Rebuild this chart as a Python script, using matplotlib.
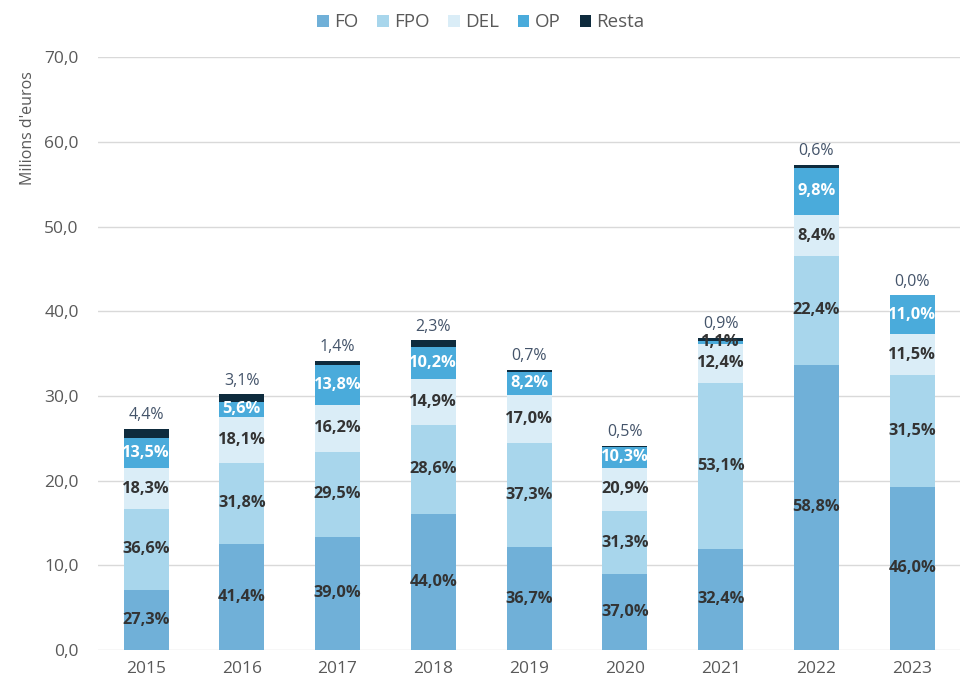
import matplotlib
matplotlib.use("Agg")
import matplotlib.pyplot as plt
import numpy as np

years = ["2015", "2016", "2017", "2018", "2019", "2020", "2021", "2022", "2023"]
totals = [26.1, 30.2, 34.2, 36.6, 33.1, 24.1, 36.9, 57.3, 41.9]
fo = [27.3, 41.4, 39.0, 44.0, 36.7, 37.0, 32.4, 58.8, 46.0]
fpo = [36.6, 31.8, 29.5, 28.6, 37.3, 31.3, 53.1, 22.4, 31.5]
dele = [18.3, 18.1, 16.2, 14.9, 17.0, 20.9, 12.4, 8.4, 11.5]
op = [13.5, 5.6, 13.8, 10.2, 8.2, 10.3, 1.1, 9.8, 11.0]
resta = [4.4, 3.1, 1.4, 2.3, 0.7, 0.5, 0.9, 0.6, 0.0]

series_names = ["FO", "FPO", "DEL", "OP", "Resta"]
series_pct = [fo, fpo, dele, op, resta]
colors = ["#70B0D8", "#A8D6EC", "#DAEDF7", "#4AABDB", "#0E2B3D"]
label_colors = ["#333333", "#333333", "#333333", "white", None]

plt.rcParams['font.family'] = ['Open Sans', 'DejaVu Sans']

fig = plt.figure(figsize=(9.62, 6.82), dpi=100)
ax = fig.add_axes([0.102, 0.047, 0.896, 0.869])

x = np.arange(len(years))
tot = np.array(totals)
bottom = np.zeros(len(years))
width = 0.47
handles = []
for name, pct, col, lc in zip(series_names, series_pct, colors, label_colors):
    vals = tot * np.array(pct) / 100.0
    b = ax.bar(x, vals, width, bottom=bottom, color=col, label=name, zorder=3)
    handles.append(b)
    for i in range(len(years)):
        txt = f"{pct[i]:.1f}".replace(".", ",") + "%"
        if name == "Resta":
            ax.annotate(txt, (x[i], bottom[i] + vals[i]), xytext=(0, 4),
                        textcoords="offset points", ha="center", va="bottom",
                        fontsize=11.5, color="#44546A", zorder=4)
        else:
            c = lc if vals[i] > 1.0 else "#333333"
            ax.text(x[i], bottom[i] + vals[i] / 2, txt, ha="center", va="center",
                    fontsize=11.8, fontweight="bold", color=c, zorder=4)
    bottom += vals

ax.set_xlim(-0.5, len(years) - 0.5)
ax.set_ylim(0, 70)
ax.set_yticks(np.arange(0, 71, 10))
ax.set_yticklabels([f"{v:.1f}".replace(".", ",") for v in np.arange(0, 71, 10)])
ax.set_xticks(x)
ax.set_xticklabels(years)
ax.tick_params(axis="both", length=0, labelsize=12.5, labelcolor="#595959")
ax.tick_params(axis="y", pad=14)
ax.tick_params(axis="x", pad=8)
ax.yaxis.grid(True, color="#D9D9D9", linewidth=1, zorder=0)
for s in ax.spines.values():
    s.set_visible(False)
ax.set_ylabel("Milions d'euros", fontsize=11.5, color="#595959")
ax.yaxis.set_label_coords(-0.072, 0.88)

fig.legend(handles=handles, labels=series_names, loc="upper center",
           bbox_to_anchor=(0.5, 1.005), ncol=5, frameon=False, fontsize=13.5,
           handlelength=0.6, handleheight=0.6, handletextpad=0.3, columnspacing=1.0,
           labelcolor="#595959")

fig.savefig("out.png", dpi=100)
